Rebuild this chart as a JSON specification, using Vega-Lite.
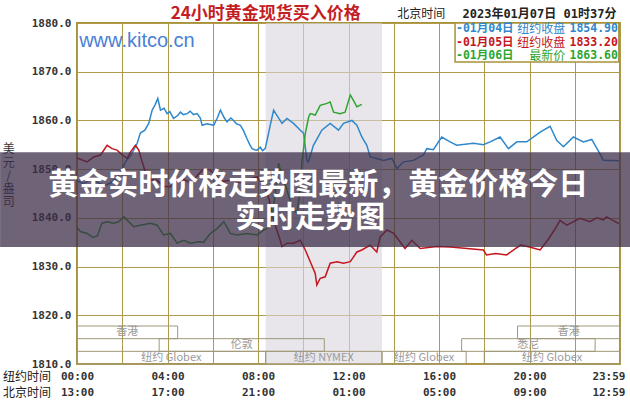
{
  "$schema": "https://vega.github.io/schema/vega-lite/v6.json",
  "width": 543,
  "height": 341,
  "autosize": "none",
  "padding": {"left": 77, "top": 23, "right": 10, "bottom": 36},
  "background": "white",
  "config": {
    "view": {"stroke": "#a8913a", "strokeWidth": 2},
    "axis": {"gridColor": "#b09c48", "gridOpacity": 1, "gridWidth": 1}
  },
  "datasets": {
    "gold": [
      {"day": "01月04日", "hour": 0.0, "price": 1847.6},
      {"day": "01月04日", "hour": 0.3, "price": 1847.0},
      {"day": "01月04日", "hour": 0.6, "price": 1848.0},
      {"day": "01月04日", "hour": 0.9, "price": 1847.3},
      {"day": "01月04日", "hour": 1.2, "price": 1846.6},
      {"day": "01月04日", "hour": 1.5, "price": 1847.2},
      {"day": "01月04日", "hour": 1.8, "price": 1848.5},
      {"day": "01月04日", "hour": 2.0, "price": 1850.0},
      {"day": "01月04日", "hour": 2.14, "price": 1851.5},
      {"day": "01月04日", "hour": 2.4, "price": 1853.0},
      {"day": "01月04日", "hour": 2.66, "price": 1855.3},
      {"day": "01月04日", "hour": 2.8, "price": 1857.4},
      {"day": "01月04日", "hour": 3.0, "price": 1858.0},
      {"day": "01月04日", "hour": 3.17, "price": 1859.4},
      {"day": "01月04日", "hour": 3.32, "price": 1862.1},
      {"day": "01月04日", "hour": 3.45, "price": 1863.2},
      {"day": "01月04日", "hour": 3.57, "price": 1864.5},
      {"day": "01月04日", "hour": 3.69, "price": 1862.1},
      {"day": "01月04日", "hour": 3.85, "price": 1862.5},
      {"day": "01月04日", "hour": 3.98, "price": 1861.4},
      {"day": "01月04日", "hour": 4.1, "price": 1861.8},
      {"day": "01月04日", "hour": 4.27, "price": 1860.4},
      {"day": "01月04日", "hour": 4.45, "price": 1861.0},
      {"day": "01月04日", "hour": 4.57, "price": 1861.7},
      {"day": "01月04日", "hour": 4.7, "price": 1861.2},
      {"day": "01月04日", "hour": 4.87, "price": 1861.4},
      {"day": "01月04日", "hour": 5.0, "price": 1861.9},
      {"day": "01月04日", "hour": 5.15, "price": 1861.2},
      {"day": "01月04日", "hour": 5.31, "price": 1861.4},
      {"day": "01月04日", "hour": 5.45, "price": 1860.5},
      {"day": "01月04日", "hour": 5.53, "price": 1859.0},
      {"day": "01月04日", "hour": 5.75, "price": 1859.3},
      {"day": "01月04日", "hour": 6.04, "price": 1859.0},
      {"day": "01月04日", "hour": 6.2, "price": 1860.5},
      {"day": "01月04日", "hour": 6.34, "price": 1862.1},
      {"day": "01月04日", "hour": 6.5, "price": 1860.6},
      {"day": "01月04日", "hour": 6.63, "price": 1859.7},
      {"day": "01月04日", "hour": 6.8, "price": 1860.5},
      {"day": "01月04日", "hour": 6.92, "price": 1860.0},
      {"day": "01月04日", "hour": 7.05, "price": 1859.3},
      {"day": "01月04日", "hour": 7.22, "price": 1859.0},
      {"day": "01月04日", "hour": 7.35, "price": 1858.0},
      {"day": "01月04日", "hour": 7.51, "price": 1856.3},
      {"day": "01月04日", "hour": 7.64, "price": 1855.0},
      {"day": "01月04日", "hour": 7.74, "price": 1854.2},
      {"day": "01月04日", "hour": 7.85, "price": 1854.0},
      {"day": "01月04日", "hour": 7.96, "price": 1853.9},
      {"day": "01月04日", "hour": 8.1, "price": 1854.5},
      {"day": "01月04日", "hour": 8.2, "price": 1853.8},
      {"day": "01月04日", "hour": 8.32, "price": 1854.2},
      {"day": "01月04日", "hour": 8.45, "price": 1857.0},
      {"day": "01月04日", "hour": 8.54, "price": 1859.0},
      {"day": "01月04日", "hour": 8.69, "price": 1862.1},
      {"day": "01月04日", "hour": 9.06, "price": 1859.4},
      {"day": "01月04日", "hour": 9.28, "price": 1860.4},
      {"day": "01月04日", "hour": 9.57, "price": 1859.4},
      {"day": "01月04日", "hour": 9.87, "price": 1858.0},
      {"day": "01月04日", "hour": 10.02, "price": 1857.3},
      {"day": "01月04日", "hour": 10.16, "price": 1851.8},
      {"day": "01月04日", "hour": 10.23, "price": 1851.5},
      {"day": "01月04日", "hour": 10.45, "price": 1854.9},
      {"day": "01月04日", "hour": 10.82, "price": 1858.0},
      {"day": "01月04日", "hour": 11.19, "price": 1859.4},
      {"day": "01月04日", "hour": 11.56, "price": 1858.0},
      {"day": "01月04日", "hour": 11.78, "price": 1859.4},
      {"day": "01月04日", "hour": 12.15, "price": 1860.0},
      {"day": "01月04日", "hour": 12.37, "price": 1859.0},
      {"day": "01月04日", "hour": 12.59, "price": 1856.6},
      {"day": "01月04日", "hour": 12.81, "price": 1854.9},
      {"day": "01月04日", "hour": 12.96, "price": 1852.5},
      {"day": "01月04日", "hour": 13.25, "price": 1852.2},
      {"day": "01月04日", "hour": 13.55, "price": 1851.8},
      {"day": "01月04日", "hour": 13.92, "price": 1852.2},
      {"day": "01月04日", "hour": 14.14, "price": 1850.1},
      {"day": "01月04日", "hour": 14.43, "price": 1851.5},
      {"day": "01月04日", "hour": 14.87, "price": 1851.8},
      {"day": "01月04日", "hour": 15.31, "price": 1852.9},
      {"day": "01月04日", "hour": 15.46, "price": 1854.2},
      {"day": "01月04日", "hour": 15.75, "price": 1854.0},
      {"day": "01月04日", "hour": 16.12, "price": 1856.6},
      {"day": "01月04日", "hour": 16.49, "price": 1855.6},
      {"day": "01月04日", "hour": 16.78, "price": 1854.9},
      {"day": "01月04日", "hour": 17.52, "price": 1855.3},
      {"day": "01月04日", "hour": 17.96, "price": 1855.0},
      {"day": "01月04日", "hour": 18.26, "price": 1855.6},
      {"day": "01月04日", "hour": 18.7, "price": 1856.6},
      {"day": "01月04日", "hour": 19.07, "price": 1854.2},
      {"day": "01月04日", "hour": 19.44, "price": 1855.6},
      {"day": "01月04日", "hour": 19.88, "price": 1855.6},
      {"day": "01月04日", "hour": 20.47, "price": 1857.6},
      {"day": "01月04日", "hour": 20.91, "price": 1858.8},
      {"day": "01月04日", "hour": 21.2, "price": 1855.9},
      {"day": "01月04日", "hour": 21.5, "price": 1854.6},
      {"day": "01月04日", "hour": 21.94, "price": 1856.6},
      {"day": "01月04日", "hour": 22.38, "price": 1855.6},
      {"day": "01月04日", "hour": 22.75, "price": 1856.1},
      {"day": "01月04日", "hour": 23.11, "price": 1853.2},
      {"day": "01月04日", "hour": 23.26, "price": 1851.8},
      {"day": "01月04日", "hour": 23.95, "price": 1851.7},

      {"day": "01月05日", "hour": 0.0, "price": 1852.3},
      {"day": "01月05日", "hour": 0.45, "price": 1851.5},
      {"day": "01月05日", "hour": 0.74, "price": 1852.5},
      {"day": "01月05日", "hour": 1.04, "price": 1852.9},
      {"day": "01月05日", "hour": 1.33, "price": 1854.9},
      {"day": "01月05日", "hour": 1.55, "price": 1854.2},
      {"day": "01月05日", "hour": 1.77, "price": 1853.9},
      {"day": "01月05日", "hour": 2.0, "price": 1852.9},
      {"day": "01月05日", "hour": 2.22, "price": 1852.2},
      {"day": "01月05日", "hour": 2.36, "price": 1853.5},
      {"day": "01月05日", "hour": 2.58, "price": 1854.9},
      {"day": "01月05日", "hour": 2.73, "price": 1853.9},
      {"day": "01月05日", "hour": 2.88, "price": 1851.5},
      {"day": "01月05日", "hour": 3.02, "price": 1849.5},
      {"day": "01月05日", "hour": 3.25, "price": 1847.8},
      {"day": "01月05日", "hour": 3.54, "price": 1847.7},
      {"day": "01月05日", "hour": 3.82, "price": 1846.5},
      {"day": "01月05日", "hour": 4.12, "price": 1846.4},
      {"day": "01月05日", "hour": 4.57, "price": 1848.4},
      {"day": "01月05日", "hour": 5.01, "price": 1847.1},
      {"day": "01月05日", "hour": 5.28, "price": 1848.5},
      {"day": "01月05日", "hour": 5.6, "price": 1850.1},
      {"day": "01月05日", "hour": 5.89, "price": 1849.8},
      {"day": "01月05日", "hour": 6.19, "price": 1848.4},
      {"day": "01月05日", "hour": 6.47, "price": 1847.5},
      {"day": "01月05日", "hour": 6.78, "price": 1847.7},
      {"day": "01月05日", "hour": 7.22, "price": 1847.2},
      {"day": "01月05日", "hour": 7.57, "price": 1848.0},
      {"day": "01月05日", "hour": 7.96, "price": 1848.4},
      {"day": "01月05日", "hour": 8.15, "price": 1847.2},
      {"day": "01月05日", "hour": 8.35, "price": 1845.7},
      {"day": "01月05日", "hour": 8.5, "price": 1843.6},
      {"day": "01月05日", "hour": 8.69, "price": 1839.5},
      {"day": "01月05日", "hour": 8.98, "price": 1835.4},
      {"day": "01月05日", "hour": 9.06, "price": 1834.1},
      {"day": "01月05日", "hour": 9.28, "price": 1834.8},
      {"day": "01月05日", "hour": 9.57, "price": 1834.8},
      {"day": "01月05日", "hour": 9.87, "price": 1835.4},
      {"day": "01月05日", "hour": 10.09, "price": 1833.4},
      {"day": "01月05日", "hour": 10.31, "price": 1831.0},
      {"day": "01月05日", "hour": 10.53, "price": 1828.6},
      {"day": "01月05日", "hour": 10.6, "price": 1826.2},
      {"day": "01月05日", "hour": 10.75, "price": 1827.6},
      {"day": "01月05日", "hour": 10.97, "price": 1827.9},
      {"day": "01月05日", "hour": 11.19, "price": 1830.7},
      {"day": "01月05日", "hour": 11.49, "price": 1831.0},
      {"day": "01月05日", "hour": 11.78, "price": 1830.7},
      {"day": "01月05日", "hour": 12.08, "price": 1831.0},
      {"day": "01月05日", "hour": 12.37, "price": 1833.0},
      {"day": "01月05日", "hour": 12.59, "price": 1833.4},
      {"day": "01月05日", "hour": 12.96, "price": 1834.4},
      {"day": "01月05日", "hour": 13.25, "price": 1833.0},
      {"day": "01月05日", "hour": 13.4, "price": 1836.1},
      {"day": "01月05日", "hour": 13.7, "price": 1837.5},
      {"day": "01月05日", "hour": 14.0, "price": 1836.8},
      {"day": "01月05日", "hour": 14.5, "price": 1833.7},
      {"day": "01月05日", "hour": 14.8, "price": 1835.4},
      {"day": "01月05日", "hour": 15.17, "price": 1833.7},
      {"day": "01月05日", "hour": 15.9, "price": 1834.1},
      {"day": "01月05日", "hour": 16.5, "price": 1834.0},
      {"day": "01月05日", "hour": 17.0, "price": 1833.8},
      {"day": "01月05日", "hour": 17.96, "price": 1833.4},
      {"day": "01月05日", "hour": 18.1, "price": 1832.4},
      {"day": "01月05日", "hour": 18.5, "price": 1832.7},
      {"day": "01月05日", "hour": 18.99, "price": 1832.4},
      {"day": "01月05日", "hour": 19.6, "price": 1834.4},
      {"day": "01月05日", "hour": 20.0, "price": 1834.0},
      {"day": "01月05日", "hour": 20.47, "price": 1833.4},
      {"day": "01月05日", "hour": 20.8, "price": 1835.4},
      {"day": "01月05日", "hour": 21.1, "price": 1837.5},
      {"day": "01月05日", "hour": 21.35, "price": 1839.5},
      {"day": "01月05日", "hour": 21.65, "price": 1838.5},
      {"day": "01月05日", "hour": 22.23, "price": 1839.9},
      {"day": "01月05日", "hour": 22.67, "price": 1839.2},
      {"day": "01月05日", "hour": 22.97, "price": 1840.0},
      {"day": "01月05日", "hour": 23.26, "price": 1839.6},
      {"day": "01月05日", "hour": 23.41, "price": 1840.2},
      {"day": "01月05日", "hour": 23.95, "price": 1838.8},

      {"day": "01月06日", "hour": 0.0, "price": 1838.0},
      {"day": "01月06日", "hour": 0.15, "price": 1837.2},
      {"day": "01月06日", "hour": 0.45, "price": 1836.8},
      {"day": "01月06日", "hour": 0.7, "price": 1836.0},
      {"day": "01月06日", "hour": 0.9, "price": 1836.3},
      {"day": "01月06日", "hour": 1.1, "price": 1838.9},
      {"day": "01月06日", "hour": 1.33, "price": 1839.2},
      {"day": "01月06日", "hour": 1.62, "price": 1838.9},
      {"day": "01月06日", "hour": 1.84, "price": 1839.2},
      {"day": "01月06日", "hour": 2.07, "price": 1840.2},
      {"day": "01月06日", "hour": 2.29, "price": 1839.2},
      {"day": "01月06日", "hour": 2.51, "price": 1838.2},
      {"day": "01月06日", "hour": 2.8, "price": 1838.5},
      {"day": "01月06日", "hour": 3.25, "price": 1838.9},
      {"day": "01月06日", "hour": 3.54, "price": 1838.5},
      {"day": "01月06日", "hour": 3.83, "price": 1836.5},
      {"day": "01月06日", "hour": 4.13, "price": 1836.8},
      {"day": "01月06日", "hour": 4.42, "price": 1834.8},
      {"day": "01月06日", "hour": 4.72, "price": 1835.4},
      {"day": "01月06日", "hour": 5.01, "price": 1834.8},
      {"day": "01月06日", "hour": 5.38, "price": 1835.1},
      {"day": "01月06日", "hour": 5.6, "price": 1835.0},
      {"day": "01月06日", "hour": 5.89, "price": 1836.8},
      {"day": "01月06日", "hour": 6.19, "price": 1837.8},
      {"day": "01月06日", "hour": 6.49, "price": 1839.2},
      {"day": "01月06日", "hour": 6.78, "price": 1836.8},
      {"day": "01月06日", "hour": 7.07, "price": 1836.5},
      {"day": "01月06日", "hour": 7.5, "price": 1836.8},
      {"day": "01月06日", "hour": 7.96, "price": 1836.5},
      {"day": "01月06日", "hour": 8.25, "price": 1837.5},
      {"day": "01月06日", "hour": 8.54, "price": 1838.2},
      {"day": "01月06日", "hour": 8.69, "price": 1842.3},
      {"day": "01月06日", "hour": 8.91, "price": 1851.2},
      {"day": "01月06日", "hour": 9.06, "price": 1848.5},
      {"day": "01月06日", "hour": 9.28, "price": 1845.7},
      {"day": "01月06日", "hour": 9.5, "price": 1842.3},
      {"day": "01月06日", "hour": 9.72, "price": 1840.9},
      {"day": "01月06日", "hour": 9.84, "price": 1845.0},
      {"day": "01月06日", "hour": 9.94, "price": 1851.2},
      {"day": "01月06日", "hour": 10.09, "price": 1857.3},
      {"day": "01月06日", "hour": 10.24, "price": 1860.7},
      {"day": "01月06日", "hour": 10.31, "price": 1861.4},
      {"day": "01月06日", "hour": 10.53, "price": 1861.1},
      {"day": "01月06日", "hour": 10.75, "price": 1863.1},
      {"day": "01月06日", "hour": 11.05, "price": 1863.5},
      {"day": "01月06日", "hour": 11.19, "price": 1863.8},
      {"day": "01月06日", "hour": 11.34, "price": 1861.7},
      {"day": "01月06日", "hour": 11.63, "price": 1861.4},
      {"day": "01月06日", "hour": 11.85, "price": 1861.7},
      {"day": "01月06日", "hour": 12.08, "price": 1865.2},
      {"day": "01月06日", "hour": 12.22, "price": 1864.1},
      {"day": "01月06日", "hour": 12.37, "price": 1862.8},
      {"day": "01月06日", "hour": 12.59, "price": 1863.3}
    ],
    "sessions": [
      {"name": "香港", "lane": "A", "start": 0, "end": 4.45},
      {"name": "香港", "lane": "A", "start": 19.47, "end": 24},
      {"name": "伦敦", "lane": "B", "start": 3.63, "end": 10.93},
      {"name": "悉尼", "lane": "B", "start": 17.0, "end": 22.9},
      {"name": "纽约 Globex", "lane": "C", "start": 0, "end": 8.34},
      {"name": "纽约 NYMEX", "lane": "C", "start": 8.34, "end": 13.48},
      {"name": "纽约 Globex", "lane": "C", "start": 13.48, "end": 17.2},
      {"name": "纽约 Globex", "lane": "C", "start": 18.0, "end": 24}
    ],
    "one": [{}]
  },
  "layer": [
    {
      "data": {"name": "sessions"},
      "transform": [{"filter": "datum.name == '纽约 NYMEX'"}],
      "mark": {"type": "rect", "fill": "#d9d5de", "opacity": 0.6},
      "encoding": {
        "x": {"field": "start", "type": "quantitative", "title": null},
        "x2": {"field": "end"},
        "y": {"datum": 1810, "type": "quantitative", "title": null},
        "y2": {"datum": 1880}
      }
    },
    {
      "data": {"name": "sessions"},
      "transform": [{"filter": "datum.lane == 'A'"}],
      "mark": {"type": "rect", "filled": false, "stroke": "#a09878", "strokeWidth": 1},
      "encoding": {
        "x": {"field": "start", "type": "quantitative", "title": null},
        "x2": {"field": "end"},
        "y": {"datum": 1817.8, "type": "quantitative", "title": null},
        "y2": {"datum": 1815.2}
      }
    },
    {
      "data": {"name": "sessions"},
      "transform": [{"filter": "datum.lane == 'B'"}],
      "mark": {"type": "rect", "filled": false, "stroke": "#a09878", "strokeWidth": 1},
      "encoding": {
        "x": {"field": "start", "type": "quantitative", "title": null},
        "x2": {"field": "end"},
        "y": {"datum": 1815.2, "type": "quantitative", "title": null},
        "y2": {"datum": 1812.6}
      }
    },
    {
      "data": {"name": "sessions"},
      "transform": [{"filter": "datum.lane == 'C'"}],
      "mark": {"type": "rect", "filled": false, "stroke": "#a09878", "strokeWidth": 1},
      "encoding": {
        "x": {"field": "start", "type": "quantitative", "title": null},
        "x2": {"field": "end"},
        "y": {"datum": 1812.6, "type": "quantitative", "title": null},
        "y2": {"datum": 1810}
      }
    },
    {
      "data": {"name": "sessions"},
      "transform": [{"filter": "datum.lane == 'A'"}, {"calculate": "(datum.start + datum.end) / 2", "as": "mid"}],
      "mark": {"type": "text", "font": "Noto Sans CJK SC", "fontSize": 11, "color": "#999999", "baseline": "middle"},
      "encoding": {
        "x": {"field": "mid", "type": "quantitative", "title": null},
        "y": {"datum": 1816.5, "type": "quantitative", "title": null},
        "text": {"field": "name"}
      }
    },
    {
      "data": {"name": "sessions"},
      "transform": [{"filter": "datum.lane == 'B'"}, {"calculate": "(datum.start + datum.end) / 2", "as": "mid"}],
      "mark": {"type": "text", "font": "Noto Sans CJK SC", "fontSize": 11, "color": "#999999", "baseline": "middle"},
      "encoding": {
        "x": {"field": "mid", "type": "quantitative", "title": null},
        "y": {"datum": 1813.9, "type": "quantitative", "title": null},
        "text": {"field": "name"}
      }
    },
    {
      "data": {"name": "sessions"},
      "transform": [{"filter": "datum.lane == 'C'"}, {"calculate": "(datum.start + datum.end) / 2", "as": "mid"}],
      "mark": {"type": "text", "font": "Noto Sans CJK SC", "fontSize": 11, "color": "#999999", "baseline": "middle"},
      "encoding": {
        "x": {"field": "mid", "type": "quantitative", "title": null},
        "y": {"datum": 1811.3, "type": "quantitative", "title": null},
        "text": {"field": "name"}
      }
    },
    {
      "data": {"name": "gold"},
      "mark": {"type": "line", "strokeWidth": 1.5},
      "encoding": {
        "x": {
          "field": "hour", "type": "quantitative", "title": null,
          "scale": {"domain": [0, 24], "nice": false, "zero": false},
          "axis": {
            "values": [0, 2, 4, 6, 8, 10, 12, 14, 16, 18, 20, 22, 24],
            "labelExpr": "datum.value % 4 != 0 ? '' : datum.value == 24 ? ['23:59', '12:59'] : [(datum.value < 10 ? '0' : '') + datum.value + ':00', ((datum.value + 13) % 24 < 10 ? '0' : '') + ((datum.value + 13) % 24) + ':00']",
            "title": null, "ticks": false, "domain": false, "grid": true,
            "labelFont": "DejaVu Sans Mono", "labelFontWeight": "bold", "labelFontSize": 11,
            "labelColor": "#333333", "labelPadding": 6, "labelLineHeight": 16,
            "labelOverlap": false, "labelFlush": false, "labelBaseline": "top",
            "labelAlign": {"condition": {"test": "datum.value == 24", "value": "right"}, "value": "center"},
            "labelOffset": {"condition": {"test": "datum.value == 24", "value": 5}, "value": 0}
          }
        },
        "y": {
          "field": "price", "type": "quantitative", "title": null,
          "scale": {"domain": [1810, 1880], "nice": false, "zero": false},
          "axis": {
            "values": [1810, 1820, 1830, 1840, 1850, 1860, 1870, 1880],
            "format": ".1f", "title": null, "ticks": false, "domain": false, "grid": true,
            "labelFont": "DejaVu Sans Mono", "labelFontWeight": "bold", "labelFontSize": 11,
            "labelColor": "#333333", "labelPadding": 6
          }
        },
        "color": {
          "field": "day", "type": "nominal",
          "scale": {"domain": ["01月04日", "01月05日", "01月06日"], "range": ["#2f88cc", "#c4161c", "#2ea52e"]},
          "legend": null
        }
      }
    },
    {
      "data": {"name": "one"},
      "mark": {"type": "rect", "fill": "white", "stroke": "#a8913a", "strokeWidth": 1.5},
      "encoding": {
        "x": {"datum": 16.71, "type": "quantitative", "title": null},
        "x2": {"datum": 23.95},
        "y": {"datum": 1880, "type": "quantitative", "title": null},
        "y2": {"datum": 1872}
      }
    },
    {"data": {"name": "one"}, "mark": {"type": "text", "align": "left", "baseline": "middle", "font": "DejaVu Sans Mono, Noto Sans CJK SC", "fontWeight": "bold", "fontSize": 11.5, "color": "#2f88cc", "text": "-01月04日"},
     "encoding": {"x": {"datum": 16.75, "type": "quantitative", "title": null}, "y": {"datum": 1878.7, "type": "quantitative", "title": null}}},
    {"data": {"name": "one"}, "mark": {"type": "text", "align": "right", "baseline": "middle", "font": "Noto Sans CJK SC", "fontSize": 12, "color": "#2f88cc", "text": "纽约收盘"},
     "encoding": {"x": {"datum": 21.58, "type": "quantitative", "title": null}, "y": {"datum": 1878.7, "type": "quantitative", "title": null}}},
    {"data": {"name": "one"}, "mark": {"type": "text", "align": "right", "baseline": "middle", "font": "DejaVu Sans Mono", "fontWeight": "bold", "fontSize": 11.5, "color": "#2f88cc", "text": "1854.90"},
     "encoding": {"x": {"datum": 23.91, "type": "quantitative", "title": null}, "y": {"datum": 1878.7, "type": "quantitative", "title": null}}},
    {"data": {"name": "one"}, "mark": {"type": "text", "align": "left", "baseline": "middle", "font": "DejaVu Sans Mono, Noto Sans CJK SC", "fontWeight": "bold", "fontSize": 11.5, "color": "#c4161c", "text": "-01月05日"},
     "encoding": {"x": {"datum": 16.75, "type": "quantitative", "title": null}, "y": {"datum": 1875.8, "type": "quantitative", "title": null}}},
    {"data": {"name": "one"}, "mark": {"type": "text", "align": "right", "baseline": "middle", "font": "Noto Sans CJK SC", "fontSize": 12, "color": "#c4161c", "text": "纽约收盘"},
     "encoding": {"x": {"datum": 21.58, "type": "quantitative", "title": null}, "y": {"datum": 1875.8, "type": "quantitative", "title": null}}},
    {"data": {"name": "one"}, "mark": {"type": "text", "align": "right", "baseline": "middle", "font": "DejaVu Sans Mono", "fontWeight": "bold", "fontSize": 11.5, "color": "#c4161c", "text": "1833.20"},
     "encoding": {"x": {"datum": 23.91, "type": "quantitative", "title": null}, "y": {"datum": 1875.8, "type": "quantitative", "title": null}}},
    {"data": {"name": "one"}, "mark": {"type": "text", "align": "left", "baseline": "middle", "font": "DejaVu Sans Mono, Noto Sans CJK SC", "fontWeight": "bold", "fontSize": 11.5, "color": "#2ea52e", "text": "-01月06日"},
     "encoding": {"x": {"datum": 16.75, "type": "quantitative", "title": null}, "y": {"datum": 1873.2, "type": "quantitative", "title": null}}},
    {"data": {"name": "one"}, "mark": {"type": "text", "align": "right", "baseline": "middle", "font": "Noto Sans CJK SC", "fontSize": 12, "color": "#2ea52e", "text": "最新价"},
     "encoding": {"x": {"datum": 21.58, "type": "quantitative", "title": null}, "y": {"datum": 1873.2, "type": "quantitative", "title": null}}},
    {"data": {"name": "one"}, "mark": {"type": "text", "align": "right", "baseline": "middle", "font": "DejaVu Sans Mono", "fontWeight": "bold", "fontSize": 11.5, "color": "#2ea52e", "text": "1863.60"},
     "encoding": {"x": {"datum": 23.91, "type": "quantitative", "title": null}, "y": {"datum": 1873.2, "type": "quantitative", "title": null}}},
    {"data": {"name": "one"}, "mark": {"type": "text", "align": "center", "baseline": "middle", "font": "Liberation Sans", "fontSize": 20, "color": "#4a7fd6", "text": "www.kitco.cn"},
     "encoding": {"x": {"datum": 2.65, "type": "quantitative", "title": null}, "y": {"datum": 1876.25, "type": "quantitative", "title": null}}},
    {"data": {"name": "one"}, "mark": {"type": "text", "align": "center", "baseline": "middle", "font": "Noto Sans CJK SC", "fontWeight": "bold", "fontSize": 17, "color": "#c41e24", "text": "24小时黄金现货买入价格"},
     "encoding": {"x": {"datum": 8.34, "type": "quantitative", "title": null}, "y": {"datum": 1881.9, "type": "quantitative", "title": null}}},
    {"data": {"name": "one"}, "mark": {"type": "text", "align": "center", "baseline": "middle", "font": "Noto Sans CJK SC", "fontSize": 12, "color": "#222222", "text": "北京时间"},
     "encoding": {"x": {"datum": 15.21, "type": "quantitative", "title": null}, "y": {"datum": 1881.8, "type": "quantitative", "title": null}}},
    {"data": {"name": "one"}, "mark": {"type": "text", "align": "center", "baseline": "middle", "font": "DejaVu Sans Mono, Noto Sans CJK SC", "fontWeight": "bold", "fontSize": 12, "color": "#222222", "text": "2023年01月07日 01时37分"},
     "encoding": {"x": {"datum": 20.44, "type": "quantitative", "title": null}, "y": {"datum": 1881.8, "type": "quantitative", "title": null}}},
    {"data": {"name": "one"}, "mark": {"type": "text", "align": "center", "baseline": "top", "font": "Noto Sans CJK SC", "fontSize": 12, "lineHeight": 13.3, "color": "#333333", "text": ["美", "元", "/", "盎", "司"]},
     "encoding": {"x": {"datum": -3.02, "type": "quantitative", "title": null}, "y": {"datum": 1855.1, "type": "quantitative", "title": null}}},
    {"data": {"name": "one"}, "mark": {"type": "text", "align": "center", "baseline": "middle", "font": "Noto Sans CJK SC", "fontSize": 12, "color": "#222222", "text": "纽约时间"},
     "encoding": {"x": {"datum": -2.21, "type": "quantitative", "title": null}, "y": {"datum": 1807.34, "type": "quantitative", "title": null}}},
    {"data": {"name": "one"}, "mark": {"type": "text", "align": "center", "baseline": "middle", "font": "Noto Sans CJK SC", "fontSize": 12, "color": "#222222", "text": "北京时间"},
     "encoding": {"x": {"datum": -2.21, "type": "quantitative", "title": null}, "y": {"datum": 1804.06, "type": "quantitative", "title": null}}},
    {
      "data": {"name": "one"},
      "mark": {"type": "rect", "fill": "#3c2c48", "opacity": 0.74},
      "encoding": {
        "x": {"datum": -3.4, "type": "quantitative", "title": null},
        "x2": {"datum": 24.5},
        "y": {"datum": 1853.48, "type": "quantitative", "title": null},
        "y2": {"datum": 1834.0}
      }
    },
    {"data": {"name": "one"}, "mark": {"type": "text", "align": "center", "baseline": "middle", "font": "Noto Sans CJK SC", "fontWeight": "bold", "fontSize": 30, "color": "white", "text": "黄金实时价格走势图最新，黄金价格今日"},
     "encoding": {"x": {"datum": 10.66, "type": "quantitative", "title": null}, "y": {"datum": 1846.67, "type": "quantitative", "title": null}}},
    {"data": {"name": "one"}, "mark": {"type": "text", "align": "center", "baseline": "middle", "font": "Noto Sans CJK SC", "fontWeight": "bold", "fontSize": 30, "color": "white", "text": "实时走势图"},
     "encoding": {"x": {"datum": 10.31, "type": "quantitative", "title": null}, "y": {"datum": 1839.9, "type": "quantitative", "title": null}}}
  ]
}
